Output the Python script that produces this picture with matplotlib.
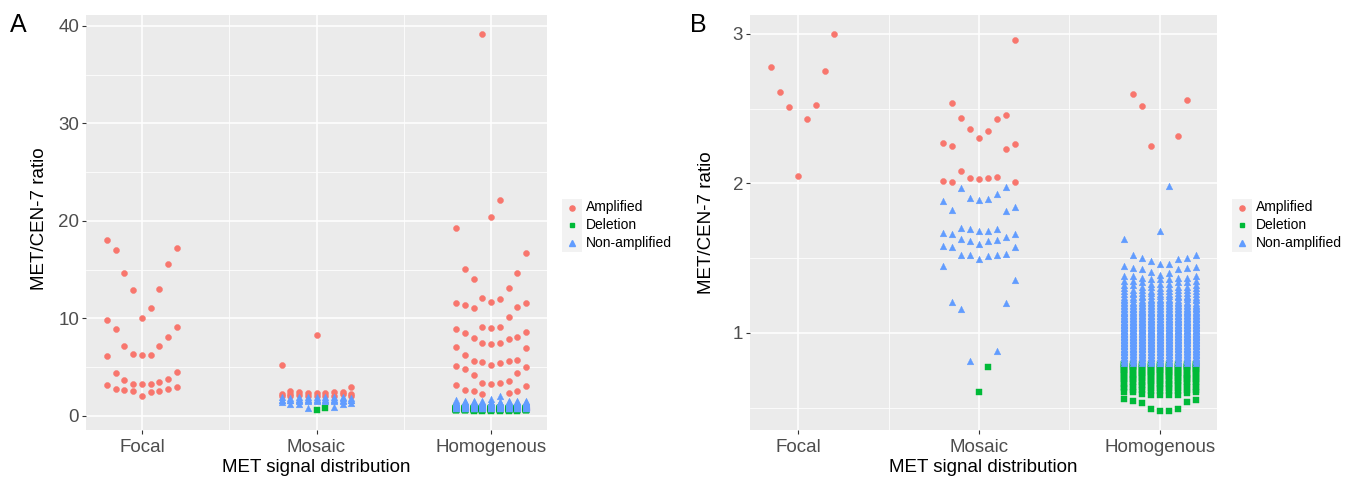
import numpy as np
import matplotlib
matplotlib.use("Agg")
import matplotlib.pyplot as plt
from matplotlib.ticker import MultipleLocator, FixedLocator
from matplotlib.lines import Line2D
from matplotlib.patches import Rectangle

plt.rcParams['font.family'] = ['Liberation Sans', 'DejaVu Sans']

# ---- data: MET/CEN-7 ratio per case, split by signal distribution and class ----
categories = ['Focal', 'Mosaic', 'Homogenous']
groups = ['Amplified', 'Deletion', 'Non-amplified']

focal_amp = [2.048, 2.43, 2.513, 2.524, 2.61, 2.75, 2.78, 3.0, 3.17,
             3.24, 3.27, 3.31, 3.48, 3.72, 3.82, 4.40, 4.47, 6.14,
             6.20, 6.24, 6.34, 7.13, 7.13, 8.11, 8.86, 9.14, 9.85,
             10.02, 11.08, 12.92, 13.02, 14.69, 15.58, 17.01, 17.22, 18.0]
focal_del = []
focal_non = []

mosaic_amp = [2.008, 2.012, 2.014, 2.028, 2.034, 2.039, 2.041, 2.086, 2.23, 2.25,
              2.264, 2.268, 2.301, 2.348, 2.361, 2.43, 2.435, 2.455, 2.54, 2.958,
              5.18, 8.28]
mosaic_del = [0.604, 0.775]
mosaic_non = [0.809, 0.88, 1.16, 1.202, 1.209, 1.354, 1.449, 1.494, 1.516, 1.518,
              1.52, 1.523, 1.527, 1.574, 1.578, 1.583, 1.598, 1.616, 1.618, 1.623,
              1.625, 1.64, 1.661, 1.661, 1.67, 1.679, 1.679, 1.692, 1.696, 1.703,
              1.816, 1.825, 1.841, 1.883, 1.89, 1.894, 1.903, 1.932, 1.966, 1.974]

homo_amp = [2.248, 2.32, 2.515, 2.56, 2.60, 3.09, 3.14, 3.31, 3.34, 3.38,
            3.58, 4.23, 4.43, 4.77, 4.98, 5.11, 5.18, 5.46, 5.52, 5.63,
            5.63, 5.76, 6.24, 6.99, 7.06, 7.40, 7.43, 7.43, 7.88, 7.98,
            8.11, 8.49, 8.59, 8.90, 9.03, 9.07, 9.07, 10.13, 11.01, 11.15,
            11.32, 11.59, 11.59, 11.66, 11.97, 12.07, 13.13, 14.05, 14.66, 15.04,
            16.67, 19.26, 20.42, 22.09, 39.17]
# sparse low deletions, then dense levels with how many cases sit at each level
homo_del_sparse = [0.477, 0.48, 0.488, 0.49, 0.533, 0.538, 0.544, 0.55, 0.56,
                   0.582, 0.582, 0.582, 0.582, 0.593, 0.600, 0.602, 0.604, 0.608]
homo_del_levels = [0.61, 0.62, 0.63, 0.64, 0.65, 0.66, 0.67, 0.68, 0.69, 0.70,
                   0.71, 0.72, 0.73, 0.74, 0.75, 0.76, 0.77, 0.78, 0.79]
homo_del_counts = [4, 4, 5, 5, 5, 6, 6, 6, 7, 7, 7, 8, 8, 8, 9, 9, 10, 10, 11]
homo_non_levels = [0.80, 0.81, 0.82, 0.83, 0.84, 0.85, 0.86, 0.87, 0.88, 0.89,
                   0.90, 0.91, 0.92, 0.93, 0.94, 0.95, 0.96, 0.97, 0.98, 0.99,
                   1.00, 1.01, 1.02, 1.03, 1.04, 1.05, 1.06, 1.07, 1.08, 1.09,
                   1.10, 1.11, 1.12, 1.13, 1.14, 1.15, 1.16, 1.17, 1.18, 1.19,
                   1.20, 1.21, 1.22, 1.23, 1.24, 1.25, 1.26, 1.27, 1.28, 1.29,
                   1.30, 1.31, 1.32, 1.33, 1.34, 1.35, 1.36, 1.37, 1.38]
homo_non_counts = [11, 12, 12, 13, 13, 14, 14, 15, 15, 16,
                   16, 17, 17, 18, 18, 18, 19, 19, 19, 20,
                   20, 19, 19, 18, 18, 17, 17, 16, 15, 15,
                   14, 13, 13, 12, 11, 11, 10, 10, 9, 9,
                   9, 8, 7, 7, 6, 6, 5, 5, 5, 4,
                   4, 4, 3, 3, 3, 3, 3, 3, 3]
homo_non_sparse = [1.389, 1.403, 1.405, 1.427, 1.429, 1.436, 1.436, 1.443, 1.449,
                   1.458, 1.464, 1.484, 1.494, 1.504, 1.504, 1.52, 1.522, 1.631,
                   1.683, 1.983]

homo_del = homo_del_sparse + list(np.repeat(homo_del_levels, homo_del_counts))
homo_non = list(np.repeat(homo_non_levels, homo_non_counts)) + homo_non_sparse

data = {
    'Focal': {'Amplified': focal_amp, 'Deletion': focal_del, 'Non-amplified': focal_non},
    'Mosaic': {'Amplified': mosaic_amp, 'Deletion': mosaic_del, 'Non-amplified': mosaic_non},
    'Homogenous': {'Amplified': homo_amp, 'Deletion': homo_del, 'Non-amplified': homo_non},
}

colors = {'Amplified': '#F8766D', 'Deletion': '#00BA38', 'Non-amplified': '#619CFF'}
markers = {'Amplified': 'o', 'Deletion': 's', 'Non-amplified': '^'}
sizes = {'Amplified': 19, 'Deletion': 14, 'Non-amplified': 23}
draw_order = ['Deletion', 'Amplified', 'Non-amplified']

SLOTS = [0, 1, -1, 2, -2, 3, -3, 4, -4]
STEP = 0.05
FS = 13.5


def swarm(values, center):
    # sorted values, laid out 9 per row from the centre outwards
    values = np.asarray(values, dtype=float)
    order = np.argsort(values, kind='stable')
    x = np.empty(len(values))
    for rank, idx in enumerate(order):
        x[idx] = center + SLOTS[rank % 9] * STEP
    return x


def draw_panel(ax, ymax=None):
    for i, cat in enumerate(categories, start=1):
        vals, labs = [], []
        for g in groups:
            v = [y for y in data[cat][g] if ymax is None or y <= ymax]
            vals += v
            labs += [g] * len(v)
        vals = np.array(vals)
        labs = np.array(labs)
        xs = swarm(vals, i)
        for g in draw_order:
            m = labs == g
            if m.any():
                ax.scatter(xs[m], vals[m], s=sizes[g], marker=markers[g],
                           color=colors[g], edgecolors=colors[g], linewidths=0.3,
                           zorder=3)
    ax.margins(0.05)
    ax.set_facecolor('#EBEBEB')
    for s in ax.spines.values():
        s.set_visible(False)
    ax.set_xticks([1, 2, 3])
    ax.set_xticklabels(categories)
    ax.xaxis.set_minor_locator(FixedLocator([1.5, 2.5]))
    ax.grid(True, which='major', color='white', linewidth=1.1, zorder=0)
    ax.grid(True, which='minor', color='white', linewidth=0.55, zorder=0)
    ax.set_axisbelow(True)
    ax.tick_params(which='major', length=3, width=0.8, color='#333333',
                   labelcolor='#4D4D4D', labelsize=FS, pad=2)
    ax.tick_params(axis='x', which='major', pad=3.5)
    ax.tick_params(which='minor', length=0)
    ax.set_xlabel('MET signal distribution', fontsize=FS, color='black', labelpad=2)
    ax.set_ylabel('MET/CEN-7 ratio', fontsize=FS, color='black')


W, H = 1352, 478
fig = plt.figure(figsize=(W / 100, H / 100), dpi=100)

axA = fig.add_axes([86 / W, 48 / H, 461 / W, 415 / H])
draw_panel(axA)
axA.set_yticks([0, 10, 20, 30, 40])
axA.yaxis.set_minor_locator(MultipleLocator(5))
axA.yaxis.set_label_coords(-0.083, 0.51)

axB = fig.add_axes([750 / W, 48 / H, 467 / W, 415 / H])
draw_panel(axB, ymax=3.05)
axB.set_yticks([1, 2, 3])
axB.yaxis.set_minor_locator(MultipleLocator(0.5))
axB.yaxis.set_label_coords(-0.074, 0.5)

fig.text(10 / W, 1 - 25 / H, 'A', fontsize=18, va='center', ha='left')
fig.text(690 / W, 1 - 25 / H, 'B', fontsize=18, va='center', ha='left')


# legends drawn in figure pixel coordinates
def legend_at(x0):
    fig.patches.append(Rectangle((x0 / W, 1 - 252 / H), 20 / W, 53 / H,
                                 transform=fig.transFigure, facecolor='#F2F2F2',
                                 edgecolor='none'))
    for k, g in enumerate(groups):
        yy = 1 - (207.5 + 17.5 * k) / H
        fig.lines.append(Line2D([(x0 + 10) / W], [yy], transform=fig.transFigure,
                                marker=markers[g], markersize=np.sqrt(sizes[g]) * 0.85,
                                color=colors[g], linestyle='none'))
        fig.text((x0 + 24) / W, yy, g, fontsize=10, va='center', ha='left')


legend_at(562)
legend_at(1232)

fig.savefig('out.png', dpi=100)
